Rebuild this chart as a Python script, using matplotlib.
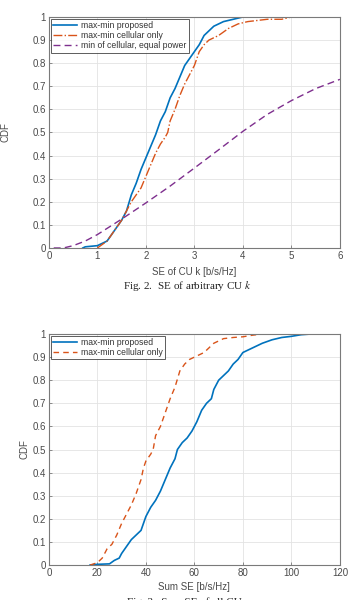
import matplotlib
matplotlib.use("Agg")
import matplotlib.pyplot as plt

plt.rcParams['font.family'] = ['Liberation Sans', 'DejaVu Sans']
plt.rcParams['mathtext.fontset'] = 'stix'

# ---- Fig. 2 data: SE of arbitrary CU k ----
prop1_x = [0.70, 0.75, 1.0, 1.2, 1.4, 1.5, 1.6, 1.7, 1.8, 1.9, 2.0, 2.1, 2.2, 2.3, 2.4, 2.5,
           2.6, 2.7, 2.8, 2.9, 3.0, 3.1, 3.2, 3.4, 3.6, 3.8, 4.0, 4.15]
prop1_y = [0.0, 0.005, 0.01, 0.03, 0.09, 0.12, 0.16, 0.23, 0.28, 0.34, 0.39, 0.44, 0.49, 0.55,
           0.59, 0.65, 0.69, 0.74, 0.79, 0.82, 0.85, 0.88, 0.92, 0.96, 0.98, 0.99, 1.0, 1.0]
cell1_x = [1.0, 1.2, 1.4, 1.5, 1.6, 1.7, 1.8, 1.9, 2.0, 2.1, 2.2, 2.3, 2.4, 2.45, 2.5, 2.6,
           2.7, 2.8, 2.9, 3.0, 3.1, 3.2, 3.3, 3.5, 3.7, 3.9, 4.1, 4.5, 4.8, 5.0]
cell1_y = [0.0, 0.03, 0.09, 0.12, 0.16, 0.20, 0.23, 0.26, 0.31, 0.36, 0.41, 0.45, 0.48, 0.50,
           0.55, 0.60, 0.66, 0.71, 0.75, 0.79, 0.85, 0.88, 0.90, 0.92, 0.95, 0.97, 0.98, 0.99,
           0.99, 1.0]
eq_x = [0.1, 0.3, 0.5, 0.75, 1.0, 1.5, 2.0, 2.5, 3.0, 3.5, 4.0, 4.5, 5.0, 5.5, 6.0]
eq_y = [0.0, 0.0, 0.01, 0.03, 0.058, 0.125, 0.195, 0.268, 0.346, 0.425, 0.505, 0.578, 0.638,
        0.69, 0.73]

# ---- Fig. 3 data: Sum SE ----
prop2_x = [17, 20, 25, 27, 29, 30, 32, 34, 36, 38, 39, 40, 42, 44, 46, 48, 50, 52, 53, 55, 57,
           59, 61, 63, 65, 67, 68, 70, 72, 74, 76, 78, 80, 84, 88, 92, 96, 100, 104, 108]
prop2_y = [0.0, 0.003, 0.005, 0.02, 0.03, 0.05, 0.08, 0.11, 0.13, 0.15, 0.18, 0.21, 0.25, 0.28,
           0.32, 0.37, 0.42, 0.46, 0.50, 0.53, 0.55, 0.58, 0.62, 0.67, 0.70, 0.72, 0.76, 0.80,
           0.82, 0.84, 0.87, 0.89, 0.92, 0.94, 0.96, 0.975, 0.985, 0.99, 0.997, 1.0]
cell2_x = [17, 20, 22, 24, 26, 28, 30, 32, 34, 36, 38, 39, 40, 42, 43, 44, 46, 48, 50, 52, 54,
           56, 58, 60, 64, 66, 68, 72, 76, 80, 84, 88]
cell2_y = [0.0, 0.01, 0.03, 0.07, 0.09, 0.13, 0.18, 0.22, 0.26, 0.31, 0.37, 0.42, 0.45, 0.48,
           0.50, 0.56, 0.60, 0.66, 0.72, 0.77, 0.84, 0.87, 0.89, 0.90, 0.92, 0.94, 0.96, 0.98,
           0.985, 0.988, 0.995, 1.0]

yticks = [0, 0.1, 0.2, 0.3, 0.4, 0.5, 0.6, 0.7, 0.8, 0.9, 1]
ytick_labels = ['0', '0.1', '0.2', '0.3', '0.4', '0.5', '0.6', '0.7', '0.8', '0.9', '1']

BLUE = '#0072BD'
ORANGE = '#D95319'
PURPLE = '#7E2F8E'
GRID = '#e3e3e3'
AX = '#7a7a7a'
TXT = '#4a4a4a'

fig = plt.figure(figsize=(3.49, 6.0), dpi=100)
ax1 = fig.add_axes([0.140, 0.5867, 0.834, 0.385])
ax2 = fig.add_axes([0.140, 0.0583, 0.834, 0.385])


def style(ax):
    ax.set_yticks(yticks)
    ax.set_yticklabels(ytick_labels)
    ax.grid(True, color=GRID, linewidth=0.6)
    ax.set_axisbelow(True)
    ax.tick_params(direction='in', length=2.5, width=0.6, colors=AX, labelcolor=TXT,
                   labelsize=7, pad=2, top=False, right=False)
    for s in ax.spines.values():
        s.set_color(AX)
        s.set_linewidth(0.8)


ax1.plot(prop1_x, prop1_y, color=BLUE, lw=1.2, label='max-min proposed')
ax1.plot(cell1_x, cell1_y, color=ORANGE, lw=1.0, ls='-.', label='max-min cellular only')
ax1.plot(eq_x, eq_y, color=PURPLE, lw=1.0, ls=(0, (5, 3)), label='min of cellular, equal power')
ax1.set_xlim(0, 6)
ax1.set_ylim(0, 1)
ax1.set_xticks([0, 1, 2, 3, 4, 5, 6])
style(ax1)
ax1.set_xlabel('SE of CU k [b/s/Hz]', fontsize=7, color=TXT)
ax1.xaxis.set_label_coords(0.5, -0.082)
ax1.set_ylabel('CDF', fontsize=7, color=TXT)
ax1.yaxis.set_label_coords(-0.132, 0.5)
leg1 = ax1.legend(loc='upper left', fontsize=6.2, frameon=True, fancybox=False,
                  edgecolor='#333333', handlelength=2.8, handletextpad=0.5,
                  borderpad=0.25, labelspacing=0.15, borderaxespad=0.2)
leg1.get_frame().set_linewidth(0.7)
for t in leg1.get_texts():
    t.set_color('#333333')

ax2.plot(prop2_x, prop2_y, color=BLUE, lw=1.2, label='max-min proposed')
ax2.plot(cell2_x, cell2_y, color=ORANGE, lw=1.0, ls=(0, (4, 3)), label='max-min cellular only')
ax2.set_xlim(0, 120)
ax2.set_ylim(0, 1)
ax2.set_xticks([0, 20, 40, 60, 80, 100, 120])
style(ax2)
ax2.set_xlabel('Sum SE [b/s/Hz]', fontsize=7, color=TXT)
ax2.xaxis.set_label_coords(0.5, -0.074)
ax2.set_ylabel('CDF', fontsize=7, color=TXT)
ax2.yaxis.set_label_coords(-0.068, 0.5)
leg2 = ax2.legend(loc='upper left', fontsize=6.2, frameon=True, fancybox=False,
                  edgecolor='#333333', handlelength=2.8, handletextpad=0.5,
                  borderpad=0.25, labelspacing=0.15, borderaxespad=0.2)
leg2.get_frame().set_linewidth(0.7)
for t in leg2.get_texts():
    t.set_color('#333333')

fig.text(187 / 349, 1 - 286 / 600, 'Fig. 2.  SE of arbitrary CU $k$', ha='center', va='center',
         fontsize=8, family='Liberation Serif', color='#222222')
fig.text(187 / 349, 1 - 597 / 600, 'Fig. 3.  Sum SE of all CUs', ha='center', va='top',
         fontsize=8, family='Liberation Serif', color='#222222')

fig.savefig('out.png', dpi=100)
